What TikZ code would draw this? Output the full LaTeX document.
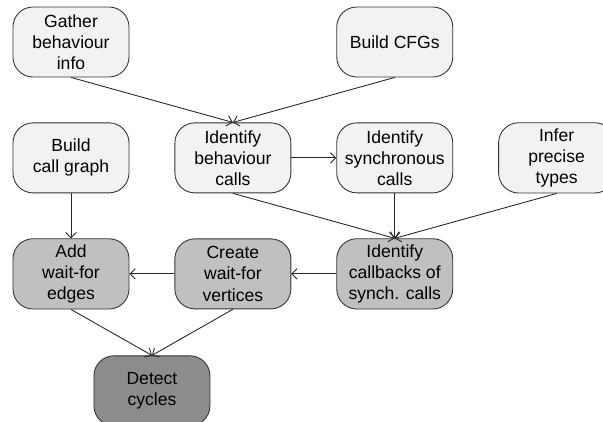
\documentclass[tikz,border=0pt]{standalone}
\usepackage{fontspec}
\setmainfont{Liberation Sans}
\usepackage{tikz}
\usetikzlibrary{arrows.meta,positioning,calc}

\definecolor{lightstep}{RGB}{242,242,242}
\definecolor{midstep}{RGB}{192,192,192}
\definecolor{darkstep}{RGB}{140,140,140}

\begin{document}
\begin{tikzpicture}[->,>={Straight Barb[length=3pt,width=6pt]},line width=0.5pt,
  node distance=0.9cm and 0.9cm,
  main node/.style={rectangle,rounded corners=0.4cm,draw=black!80,fill=lightstep,
    minimum width=2.32cm,minimum height=1.4cm,align=center,font=\normalsize},
  mid node/.style={main node,fill=midstep},
  dark node/.style={main node,fill=darkstep}]

  \useasboundingbox (0,0) rectangle (12.06,-8.44);

  \node[main node] (gather) at (1.42,-0.84) {Gather\\behaviour\\info};
  \node[main node] (callgraph) [below=of gather] {Build\\call graph};
  \node[main node] (behcalls) [right=of callgraph] {Identify\\behaviour\\calls};
  \node[main node] (synccalls) [right=of behcalls] {Identify\\synchronous\\calls};
  \node[main node] (infer) [right=of synccalls] {Infer\\precise\\types};
  \node[main node] (cfgs) [above=of synccalls] {Build CFGs};
  \node[mid node] (waitedges) [below=of callgraph] {Add\\wait-for\\edges};
  \node[mid node] (waitverts) [right=of waitedges] {Create\\wait-for\\vertices};
  \node[mid node] (callbacks) [right=of waitverts] {Identify\\callbacks of\\synch. calls};
  \node[dark node] (detect) [below=0.92cm of $(waitedges.south)!0.5!(waitverts.south)$] {Detect\\cycles};

  \path[every edge/.append style={draw=black!85}]
         (gather.south) edge (behcalls.north)
         (cfgs.south) edge (behcalls.north)
         (behcalls) edge (synccalls)
         (behcalls.south) edge (callbacks.north)
         (synccalls) edge (callbacks)
         (infer.south) edge (callbacks.north)
         (callgraph) edge (waitedges)
         (callbacks) edge (waitverts)
         (waitverts) edge (waitedges)
         (waitverts.south) edge (detect.north)
         (waitedges.south) edge (detect.north);

\end{tikzpicture}
\end{document}
